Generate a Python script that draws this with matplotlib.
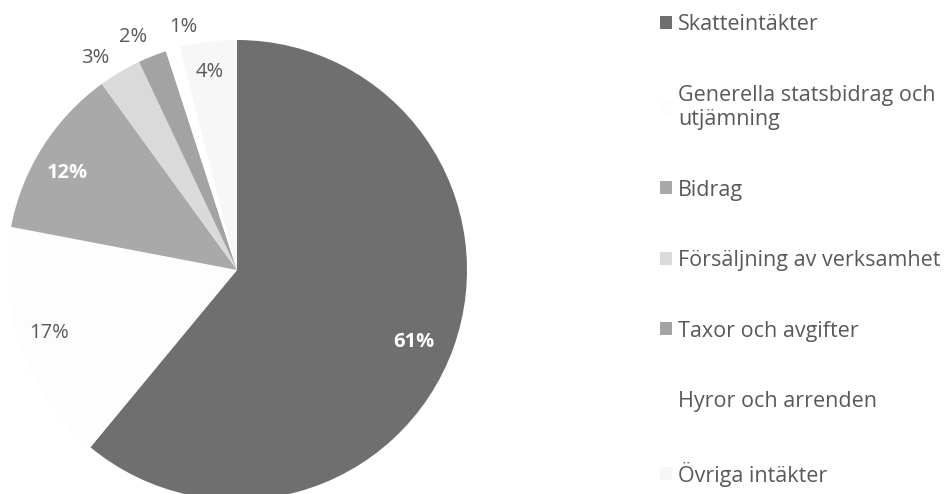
import numpy as np
import matplotlib
matplotlib.use("Agg")
import matplotlib.pyplot as plt

plt.rcParams['font.family'] = ['Open Sans', 'DejaVu Sans']

# %%
categories = ["Skatteintäkter", "Generella statsbidrag och\nutjämning", "Bidrag",
              "Försäljning av verksamhet", "Taxor och avgifter", "Hyror och arrenden",
              "Övriga intäkter"]
shares = [61, 17, 12, 3, 2, 1, 4]
pct_labels = ["61%", "17%", "12%", "3%", "2%", "1%", "4%"]

colors = ["#6f6f6f", "#fdfdfd", "#a9a9a9", "#dadada", "#a3a3a3", "#ffffff", "#f7f7f7"]
label_colors = ["white", "#595959", "white", "#595959", "#595959", "#595959", "#595959"]
label_weights = ["bold", "normal", "bold", "normal", "normal", "normal", "normal"]
# radial position (fraction of radius) and angular nudge (deg) of each % label
label_r = [0.83, 0.86, 0.85, 1.11, 1.11, 1.08, 0.87]
label_nudge = [-2.5, -1.2, 2.5, 3.2, 2.4, -3.7, 0.6]

# %%
fig = plt.figure(figsize=(9.47, 4.94), dpi=100)
R = 230
cx, cy = 237, 494 - 270
ax = fig.add_axes([(cx - R) / 947, (cy - R) / 494, 2 * R / 947, 2 * R / 494])
wedges, _ = ax.pie(shares, colors=colors, startangle=90, counterclock=False,
                   wedgeprops=dict(linewidth=0))
ax.set_xlim(-1, 1)
ax.set_ylim(-1, 1)
ax.set_aspect("equal")

for w, txt, c, fw, r, dn in zip(wedges, pct_labels, label_colors, label_weights,
                                label_r, label_nudge):
    ang = np.deg2rad((w.theta1 + w.theta2) / 2 + dn)
    ax.text(r * np.cos(ang), r * np.sin(ang), txt, ha="center", va="center",
            color=c, fontweight=fw, fontsize=14.5, clip_on=False)

fig.legend(wedges, categories, loc="upper left", bbox_to_anchor=(648 / 947, 0.995),
           frameon=False, fontsize=15.5, labelcolor="#595959", handlelength=0.55,
           handleheight=0.55, handletextpad=0.3, labelspacing=2.3,
           borderaxespad=0.15)

fig.savefig("out.png", dpi=100)
